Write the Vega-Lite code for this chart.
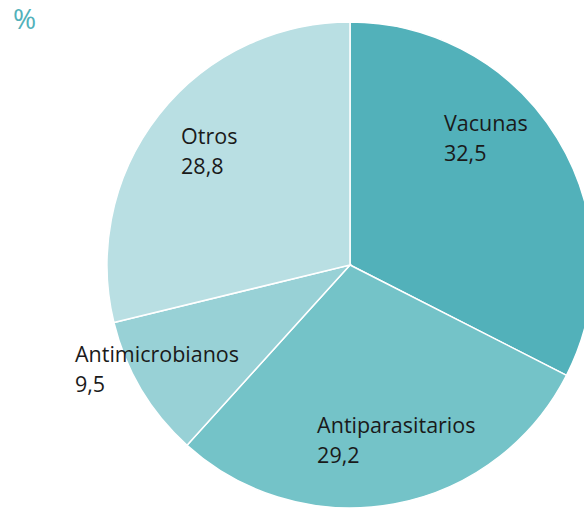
{
  "$schema": "https://vega.github.io/schema/vega-lite/v6.json",
  "width": 468,
  "height": 486,
  "autosize": {"type": "none"},
  "padding": {"left": 116, "top": 22, "right": 0, "bottom": 0},
  "background": "white",
  "title": {
    "text": "%",
    "orient": "none",
    "anchor": "start",
    "frame": "group",
    "dx": -103,
    "dy": 7,
    "offset": 0,
    "baseline": "alphabetic",
    "font": "Open Sans",
    "fontSize": 28,
    "fontWeight": "normal",
    "color": "#52b1ba"
  },
  "data": {
    "values": [
      {"categoria": "Vacunas", "valor": 32.5, "orden": 1},
      {"categoria": "Antiparasitarios", "valor": 29.2, "orden": 2},
      {"categoria": "Antimicrobianos", "valor": 9.5, "orden": 3},
      {"categoria": "Otros", "valor": 28.8, "orden": 4}
    ]
  },
  "transform": [
    {"calculate": "datum.categoria + '\\n' + replace(format(datum.valor, '.1f'), '.', ',')", "as": "etiqueta"}
  ],
  "layer": [
    {
      "mark": {"type": "arc", "outerRadius": 243, "stroke": "white", "strokeWidth": 1.5},
      "encoding": {
        "theta": {"field": "valor", "type": "quantitative", "stack": true},
        "order": {"field": "orden", "type": "quantitative"},
        "color": {
          "field": "categoria",
          "type": "nominal",
          "scale": {
            "domain": ["Vacunas", "Antiparasitarios", "Antimicrobianos", "Otros"],
            "range": ["#52b1ba", "#74c3c8", "#98d1d6", "#b9dfe3"]
          },
          "legend": null
        }
      }
    },
    {
      "transform": [{"filter": "datum.categoria === 'Vacunas'"}],
      "mark": {"type": "text", "theta": 0.6117, "radius": 163.7, "align": "left", "baseline": "alphabetic", "lineBreak": "\n", "lineHeight": 30, "font": "Open Sans", "fontSize": 21.5, "color": "#1a1a1a"},
      "encoding": {"text": {"field": "etiqueta"}}
    },
    {
      "transform": [{"filter": "datum.categoria === 'Antiparasitarios'"}],
      "mark": {"type": "text", "theta": 3.335, "radius": 171.2, "align": "left", "baseline": "alphabetic", "lineBreak": "\n", "lineHeight": 30, "font": "Open Sans", "fontSize": 21.5, "color": "#1a1a1a"},
      "encoding": {"text": {"field": "etiqueta"}}
    },
    {
      "transform": [{"filter": "datum.categoria === 'Antimicrobianos'"}],
      "mark": {"type": "text", "theta": 4.374, "radius": 291.6, "align": "left", "baseline": "alphabetic", "lineBreak": "\n", "lineHeight": 30, "font": "Open Sans", "fontSize": 21.5, "color": "#1a1a1a"},
      "encoding": {"text": {"field": "etiqueta"}}
    },
    {
      "transform": [{"filter": "datum.categoria === 'Otros'"}],
      "mark": {"type": "text", "theta": 5.334, "radius": 207.8, "align": "left", "baseline": "alphabetic", "lineBreak": "\n", "lineHeight": 30, "font": "Open Sans", "fontSize": 21.5, "color": "#1a1a1a"},
      "encoding": {"text": {"field": "etiqueta"}}
    }
  ],
  "config": {"view": {"stroke": null}}
}
